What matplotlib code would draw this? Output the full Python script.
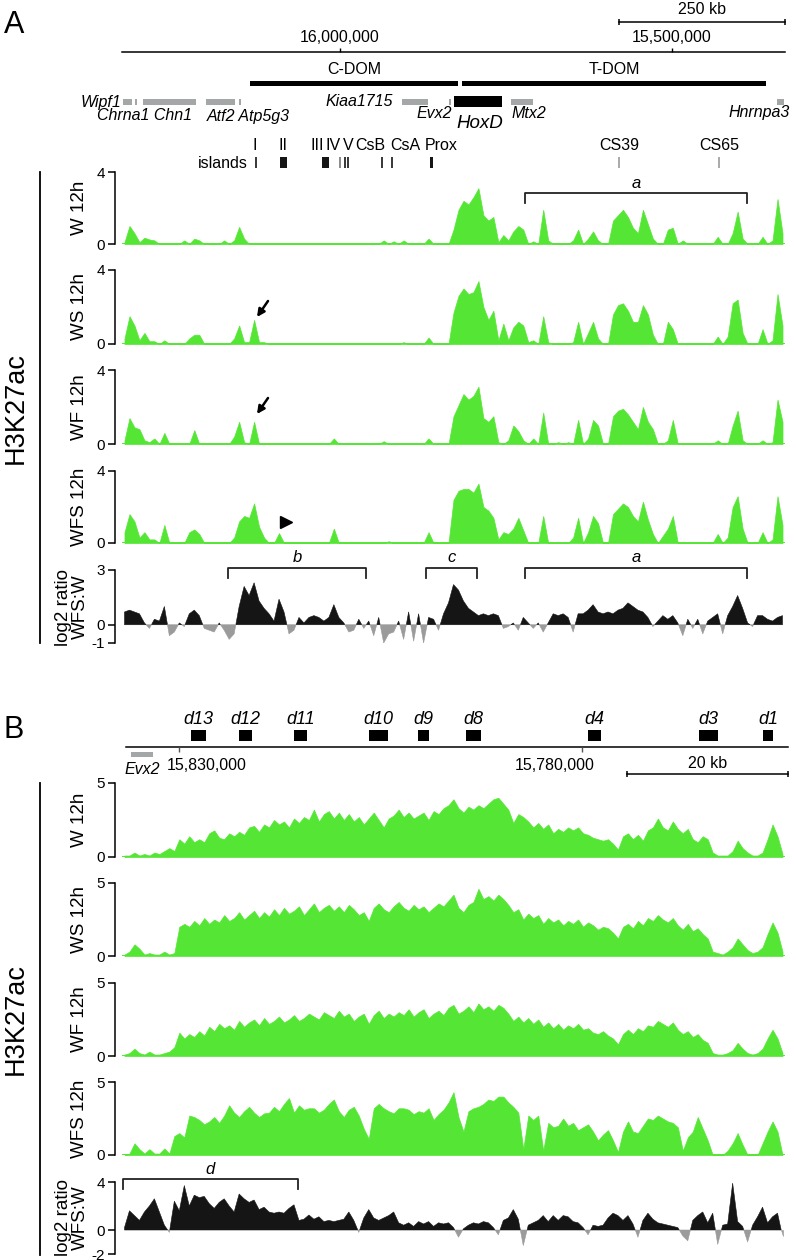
import numpy as np
import matplotlib.pyplot as plt
import matplotlib.transforms as mtransforms
from matplotlib.patches import Rectangle
from matplotlib.lines import Line2D

plt.rcParams['font.family'] = ['Liberation Sans', 'DejaVu Sans']

W_PX, H_PX = 796, 1260
GREEN = '#55e635'
DARK = '#151515'
GREY = '#9b9b9b'
GENE_GREY = '#a3a7a8'

# genomic windows in kb (the maps run from high to low coordinate)
A_LEFT, A_RIGHT = 16328.0, 15329.0
B_LEFT, B_RIGHT = 15837.07, 15754.81
B_AXIS = (15836.6, 15754.4)

A_TICKS = [16000.0, 15500.0]
A_TICK_LABELS = ['16,000,000', '15,500,000']
B_TICKS = [15830.0, 15780.0]
B_TICK_LABELS = ['15,830,000', '15,780,000']
SCALE_A_KB = 250
SCALE_B_KB = 20

TRACK_NAMES = ['W 12h', 'WS 12h', 'WF 12h', 'WFS 12h']

# panel A annotation (kb)
DOMAINS = [('C-DOM', 16135.1, 15821.7), ('T-DOM', 15815.7, 15357.7)]
GENES_A = [(16326.5, 16312.9), (16308.4, 16305.4), (16296.4, 16216.5),
           (16201.4, 16157.7), (16151.7, 16148.7), (15906.1, 15866.9),
           (15834.6, 15833.0), (15741.9, 15708.7), (15341.1, 15330.6)]
HOXD = (15827.8, 15755.5)
ISLANDS = [(16126.1, 16126.1, DARK), (16089.9, 16079.4, DARK), (16026.7, 16016.1, DARK),
           (15999.5, 15999.5, '#777777'), (15992.0, 15990.2, DARK), (15987.8, 15986.0, DARK),
           (15936.3, 15936.3, DARK), (15921.2, 15921.2, DARK), (15863.9, 15859.4, DARK),
           (15579.2, 15579.2, GREY), (15428.5, 15428.5, GREY)]
BRACKETS_W = [('a', 15720.8, 15386.3)]
BRACKETS_RATIO_A = [('b', 16168.3, 15960.4), ('c', 15870.0, 15793.1), ('a', 15720.8, 15386.3)]

# panel B annotation (kb)
HOXD_GENES = [('d13', 15828.51, 15826.65), ('d12', 15822.55, 15820.94), ('d11', 15815.73, 15814.12),
              ('d10', 15806.43, 15804.07), ('d9', 15800.35, 15798.98), ('d8', 15794.39, 15792.53),
              ('d4', 15779.26, 15777.64), ('d3', 15765.48, 15763.13), ('d1', 15757.54, 15756.31)]
EVX2_B = (15835.95, 15833.22)
BRACKETS_RATIO_B = [('d', 15836.95, 15815.23)]

# H3K27ac signal, panel A (133 bins across the window)
a_w = [0.1, 1.0, 0.6, 0.1, 0.35, 0.25, 0.2, 0, 0, 0,
       0, 0, 0.2, 0, 0.3, 0.2, 0, 0, 0, 0,
       0.2, 0, 0.2, 0.95, 0.3, 0, 0, 0, 0, 0,
       0, 0, 0, 0, 0, 0, 0, 0, 0, 0,
       0, 0, 0, 0, 0, 0, 0, 0, 0, 0,
       0, 0, 0.2, 0, 0.15, 0, 0.2, 0, 0, 0,
       0, 0.3, 0, 0, 0, 0, 0.8, 1.9, 2.4, 2.2,
       2.6, 3.1, 1.6, 1.3, 1.5, 0.1, 0.5, 0.2, 0.7, 1.0,
       0.8, 0, 0.15, 0, 1.9, 0.2, 0, 0, 0, 0,
       0.2, 0.8, 0, 0.3, 0.7, 0.2, 0, 0, 1.3, 1.6,
       1.9, 1.5, 0.9, 0.6, 1.9, 1.1, 0.3, 0, 0, 0.8,
       0.9, 0, 0.2, 0, 0, 0, 0, 0, 0, 0.4,
       0, 0, 0.6, 1.8, 0.3, 0, 0, 0, 0.4, 0,
       0.2, 2.5, 0.6]
a_ws = [0.3, 1.5, 1.0, 0.2, 0.6, 0.15, 0.15, 0, 0.2, 0,
        0, 0, 0, 0.3, 0.5, 0.5, 0, 0, 0, 0,
        0, 0, 0.3, 1.0, 0.1, 0.1, 1.3, 0.1, 0.1, 0,
        0, 0, 0, 0, 0, 0, 0, 0, 0, 0,
        0, 0, 0, 0, 0, 0, 0, 0, 0, 0,
        0, 0, 0, 0, 0, 0, 0.1, 0, 0, 0,
        0, 0.35, 0, 0, 0, 0, 1.7, 2.6, 3.0, 2.7,
        2.8, 3.4, 2.0, 1.3, 1.8, 0.2, 1.1, 0.2, 0.9, 1.2,
        1.0, 0.1, 0.2, 0, 1.5, 0.1, 0, 0, 0, 0,
        0.1, 1.2, 0, 0.6, 1.2, 0.3, 0, 0, 1.6, 2.1,
        2.2, 1.8, 1.2, 1.2, 2.1, 1.6, 0.5, 0, 0, 1.2,
        0.8, 0, 0, 0, 0, 0, 0, 0, 0, 0.4,
        0, 0.4, 2.2, 2.4, 0.6, 0, 0, 0, 0.8, 0,
        0.2, 2.7, 1.0]
a_wf = [0.2, 1.4, 0.9, 0.8, 0.2, 0.1, 0.3, 0, 0.6, 0,
        0, 0, 0, 0, 0.75, 0, 0, 0, 0, 0,
        0, 0, 0.4, 1.2, 0.1, 0, 1.2, 0, 0, 0,
        0, 0, 0, 0, 0, 0, 0, 0, 0, 0,
        0, 0, 0.3, 0, 0, 0, 0, 0, 0, 0,
        0, 0, 0.15, 0, 0, 0, 0, 0, 0, 0,
        0, 0.3, 0, 0, 0, 0, 1.5, 2.1, 2.7, 2.4,
        2.6, 3.1, 1.4, 1.2, 1.5, 0.1, 0, 0.2, 1.0, 0.7,
        0.2, 0, 0.3, 0, 1.7, 0, 0, 0.1, 0, 0.1,
        0, 1.3, 0, 0.3, 1.3, 1.0, 0, 0, 1.5, 1.8,
        1.9, 1.6, 1.2, 0.8, 2.0, 1.2, 0.8, 0, 0, 0.2,
        1.3, 0, 0, 0, 0, 0, 0, 0, 0, 0.2,
        0, 0, 1.0, 1.8, 0.2, 0, 0, 0, 0.2, 0,
        0.1, 2.4, 1.2]
a_wfs = [0.6, 1.6, 1.2, 0.3, 0.6, 0.2, 0.2, 0, 1.0, 0,
         0, 0, 0, 0.6, 0.75, 0.5, 0, 0, 0, 0,
         0, 0, 0.3, 1.2, 1.5, 1.4, 2.2, 0.9, 0.3, 0,
         0, 0.55, 0, 0, 0, 0, 0, 0, 0, 0,
         0, 0, 0.8, 0, 0, 0, 0, 0, 0, 0,
         0, 0, 0, 0.1, 0, 0, 0, 0, 0, 0,
         0, 0.6, 0, 0, 0, 0, 2.4, 2.9, 3.0, 3.0,
         2.8, 3.3, 2.0, 1.8, 1.4, 0.2, 0.6, 0.5, 0.8, 1.4,
         0.7, 0, 0, 0, 1.5, 0, 0, 0, 0, 0,
         0.3, 1.4, 0, 0.6, 1.5, 1.1, 0, 0, 1.6, 1.9,
         2.2, 2.0, 1.5, 1.2, 2.3, 1.3, 0.5, 0, 0.4, 0.8,
         1.5, 0, 0, 0, 0, 0, 0, 0, 0, 0.5,
         0, 0.3, 2.0, 2.6, 0.8, 0, 0, 0, 0.6, 0,
         0.2, 2.6, 1.0]
a_ratio = [0.7, 0.8, 0.7, 0.6, 0.1, -0.2, 0.3, 0.2, 1.0, -0.6,
           -0.4, 0.1, -0.1, 0.6, 0.8, 0.5, -0.2, -0.3, -0.4, 0.1,
           -0.3, -0.8, -0.5, 1.0, 2.1, 1.6, 2.3, 1.3, 0.9, 0.6,
           0.2, 1.4, 0.7, -0.5, -0.3, 0.4, 0.1, 0.4, 0.5, 0.4,
           0.2, 0.4, 1.1, 0.4, 0.1, -0.4, -0.3, 0.3, -0.2, 0.2,
           -0.6, 0.4, -1.0, -0.5, -0.4, 0.2, -0.8, 0.7, -0.9, 0.6,
           -1.0, 0.4, 0.3, -0.3, 0.6, 1.2, 2.2, 1.9, 1.3, 0.9,
           0.7, 0.5, 0.6, 0.5, 0.6, 0.5, -0.2, -0.1, 0.1, -0.3,
           0.4, 0.1, -0.2, 0.1, -0.4, 0.1, 0.6, 0.5, 0.6, 0.4,
           -0.4, 0.6, 0.6, 0.8, 1.1, 0.7, 0.6, 0.7, 0.6, 0.8,
           0.9, 1.2, 1.0, 0.8, 0.7, 0.4, -0.1, 0.2, 0.5, 0.3,
           0.5, 0.1, -0.6, 0.3, -0.2, 0.3, -0.5, 0.2, 0.4, 0.6,
           -0.5, 0.5, 1.0, 1.6, 0.9, 0.1, -0.1, 0.5, 0.5, 0.3,
           0.2, 0.4, 0.5]

# H3K27ac signal, panel B
b_w = [0.1, 0.1, 0.3, 0.1, 0.2, 0.1, 0.3, 0.2, 0.4, 0.6,
       0.4, 1.2, 0.9, 1.4, 1.0, 1.2, 1.0, 1.6, 1.8, 1.3,
       1.2, 1.6, 1.4, 1.7, 1.5, 2.0, 2.1, 1.7, 2.2, 2.0,
       2.5, 2.2, 2.4, 2.0, 2.6, 2.3, 2.7, 2.5, 3.2, 2.4,
       2.9, 3.1, 2.6, 3.0, 2.5, 2.9, 2.4, 2.7, 2.2, 2.6,
       3.0, 2.5, 2.0, 2.6, 2.8, 3.2, 2.7, 3.0, 2.6, 2.8,
       3.0, 2.5, 3.1, 2.9, 3.3, 3.5, 3.9, 3.3, 3.0, 3.4,
       3.2, 3.5, 3.3, 3.6, 3.9, 4.0, 3.6, 3.2, 2.3, 2.9,
       2.7, 2.4, 2.0, 2.3, 1.9, 2.2, 1.6, 1.9, 1.7, 2.0,
       1.8, 2.0, 1.6, 1.5, 1.3, 1.2, 1.1, 1.2, 0.9, 0.5,
       1.4, 1.6, 1.2, 1.5, 1.1, 1.8, 2.0, 2.6, 2.0, 1.8,
       2.4, 1.9, 1.6, 1.9, 1.2, 1.0, 1.4, 1.2, 0.3, 0.1,
       0.1, 0.1, 0.4, 1.1, 0.6, 0.3, 0.1, 0.1, 0.3, 1.2,
       2.2, 1.4, 0.2]
b_ws = [0.1, 0.3, 0.8, 0.5, 0.1, 0.2, 0.1, 0.1, 0.3, 0.1,
        0.2, 2.0, 2.2, 2.0, 2.4, 2.1, 2.6, 2.2, 2.5, 2.3,
        2.8, 2.4, 2.6, 3.0, 2.5, 2.8, 3.1, 2.6, 3.0, 2.7,
        3.2, 2.8, 3.3, 2.9, 3.1, 3.4, 2.8, 3.2, 3.6, 3.0,
        3.3, 3.5, 3.1, 3.4, 3.0, 3.5, 3.2, 2.8, 3.0, 2.4,
        3.3, 3.6, 3.2, 3.0, 3.4, 3.7, 3.3, 3.1, 3.5, 3.2,
        3.4, 3.0, 3.3, 3.6, 3.4, 3.8, 4.2, 3.3, 3.0, 3.5,
        3.7, 4.6, 3.9, 4.1, 3.8, 4.2, 3.9, 3.5, 3.0, 3.2,
        2.5, 2.9, 2.6, 2.8, 2.2, 2.6, 2.3, 2.5, 2.1, 2.4,
        2.2, 2.5, 2.0, 2.3, 2.1, 1.8, 2.0, 1.9, 1.6, 1.2,
        2.0, 2.2, 1.9, 2.4, 2.1, 2.6, 2.4, 2.8, 2.5, 2.3,
        2.6, 2.1, 1.8, 2.2, 1.7, 1.9, 1.5, 1.2, 0.3, 0.2,
        0.1, 0.3, 0.6, 1.2, 0.8, 0.4, 0.2, 0.3, 0.6, 1.5,
        2.3, 1.6, 0.3]
b_wf = [0.1, 0.2, 0.5, 0.2, 0.1, 0.3, 0.1, 0.1, 0.2, 0.3,
        0.6, 1.6, 1.2, 1.5, 1.3, 1.7, 1.4, 2.0, 1.7, 2.2,
        1.9, 2.1, 1.8, 2.4, 2.0, 2.3, 2.5, 2.1, 2.6, 2.2,
        2.4, 2.7, 2.3, 2.5, 2.8, 2.4, 2.6, 2.9, 2.7, 2.5,
        3.0, 2.8, 2.6, 3.1, 2.7, 2.9, 2.4, 2.7, 2.9, 2.2,
        2.8, 3.1, 2.6, 2.9, 2.7, 3.0, 2.8, 3.2, 2.7, 3.0,
        3.2, 2.6, 2.9, 3.1, 2.8, 3.3, 3.5, 2.9, 3.1, 3.4,
        3.0, 3.6, 3.2, 3.4, 3.1, 3.5, 3.3, 2.9, 2.4, 2.7,
        2.3, 2.6, 2.2, 2.5, 2.0, 2.3, 1.9, 2.2, 1.8, 2.1,
        1.9, 2.2, 1.8, 1.9, 1.6, 1.5, 1.7, 1.4, 1.2, 0.8,
        1.5, 1.8, 1.5, 1.9, 1.7, 2.1, 2.0, 2.4, 2.2, 2.0,
        2.3, 1.8, 1.5, 1.7, 1.3, 1.5, 1.1, 0.9, 0.2, 0.1,
        0.1, 0.2, 0.4, 0.9, 0.5, 0.2, 0.1, 0.2, 0.5, 1.2,
        1.8, 1.2, 0.2]
b_wfs = [0.0, 0.1, 0.8, 0.4, 0.1, 0.4, 0.1, 0.1, 0.45, 0.1,
         1.3, 1.5, 1.2, 2.7, 2.6, 2.4, 2.1, 2.3, 2.6, 2.2,
         2.7, 3.4, 2.9, 2.6, 3.0, 3.3, 2.9, 2.6, 2.85, 2.9,
         3.3, 3.0, 3.5, 3.9, 2.9, 3.4, 3.1, 3.2, 3.2, 2.9,
         3.1, 3.5, 3.8, 3.0, 2.6, 3.1, 3.3, 2.7, 1.8, 1.1,
         3.2, 3.5, 3.2, 3.0, 2.85, 3.2, 3.2, 3.1, 2.8, 3.0,
         2.9, 3.2, 2.4, 2.8, 3.1, 3.6, 4.3, 2.6, 1.6, 3.0,
         3.2, 3.3, 3.5, 3.8, 3.7, 4.0, 4.0, 3.6, 3.3, 2.9,
         0.4, 2.7, 2.4, 2.7, 0.3, 2.2, 1.9, 2.0, 2.5, 2.0,
         2.2, 1.7, 1.9, 2.1, 1.6, 1.0, 1.4, 1.7, 1.0, 0.2,
         1.6, 2.3, 1.6, 1.5, 2.0, 2.5, 2.4, 2.7, 2.5, 2.3,
         2.2, 1.9, 0.3, 1.2, 1.6, 2.6, 1.8, 1.0, 0.0, 0.0,
         0.0, 0.3, 0.8, 1.5, 0.7, 0.0, 0.0, 0.0, 0.8, 1.6,
         2.3, 1.6, 0.0]
b_ratio = [0.2, 1.6, 1.2, 0.8, 1.5, 2.0, 2.6, 1.5, 0.4, -0.2,
           2.4, 1.6, 3.7, 2.0, 2.9, 2.7, 2.8, 2.2, 1.8, 2.3,
           2.6, 2.0, 1.5, 3.0, 2.6, 2.3, 2.5, 1.7, 1.9, 1.5,
           1.4, 1.5, 1.4, 1.8, 2.1, 0.8, 0.9, 1.25, 0.9, 1.1,
           0.7, 0.8, 0.7, 0.8, 0.9, 1.5, 0.8, -0.2, 1.0, 1.7,
           1.0, 0.8, 1.0, 1.2, 1.5, 0.6, 0.4, 0.6, 0.3, 0.7,
           0.5, 0.7, 0.3, 0.6, 0.5, 0.6, 0.2, -0.6, 0.1, 0.4,
           0.6, 0.5, 0.7, 0.6, 0.2, -0.4, 0.8, 1.0, 1.7, 0.9,
           -1.3, 0.4, 0.6, 0.8, 1.2, 0.7, 1.2, 0.8, 1.2, 1.1,
           0.7, 0.6, 0.2, -0.4, 0.4, 0.3, 0.4, 1.0, 1.4, 1.2,
           0.8, 1.2, 0.5, -0.6, 0.8, 1.4, 0.9, 0.6, 0.5, 0.4,
           0.3, 0.2, -0.5, -0.9, 0.8, 1.2, 1.5, 0.6, 1.4, -1.2,
           0.4, 0.5, 3.9, 0.7, 0.3, -1.0, 0.4, 1.1, 1.9, 0.6,
           1.1, 1.4, -0.5]

fig = plt.figure(figsize=(W_PX / 100, H_PX / 100), dpi=100)


def px_axes(x0, y0, x1, y1):
    """ axes placed by pixel box (y measured from the top) """
    return fig.add_axes([x0 / W_PX, 1 - y1 / H_PX, (x1 - x0) / W_PX, (y1 - y0) / H_PX])


def ftext(x, y, s, **kw):
    kw.setdefault('ha', 'center')
    kw.setdefault('va', 'center')
    fig.text(x / W_PX, 1 - y / H_PX, s, **kw)


def fline(xs, ys, **kw):
    fig.add_artist(Line2D([x / W_PX for x in xs], [1 - y / H_PX for y in ys],
                          transform=fig.transFigure, **kw))


def span_box(ax, start, end, ytop, h, color):
    ax.add_patch(Rectangle((min(start, end), ytop), abs(end - start), h,
                           facecolor=color, edgecolor='none', clip_on=False))


def bin_centres(left, right, n):
    edges = np.linspace(left, right, n + 1)
    return (edges[:-1] + edges[1:]) / 2


def track_axes(y0, y1, left, right, lo, hi, ticks):
    ax = px_axes(122, y0, 785, y1)
    ax.set_xlim(left, right)
    ax.set_ylim(lo, hi)
    for s in ['top', 'right', 'bottom']:
        ax.spines[s].set_visible(False)
    ax.spines['left'].set_position(('outward', 5))
    ax.spines['left'].set_bounds(lo, hi)
    ax.spines['left'].set_linewidth(1.1)
    ax.set_yticks(ticks)
    ax.set_yticklabels([str(t) for t in ticks])
    ax.tick_params(axis='y', length=5, width=1.1, labelsize=11, pad=2)
    ax.set_xticks([])
    ax.patch.set_visible(False)
    return ax


def draw_signal(ax, vals, left, right):
    pos = bin_centres(left, right, len(vals))
    ax.fill_between(pos, 0, vals, facecolor=GREEN, edgecolor=GREEN, linewidth=0.5)
    ax.axhline(0, color=GREEN, lw=1.4)


def draw_ratio(ax, vals, left, right):
    pos = bin_centres(left, right, len(vals))
    v = np.asarray(vals)
    ax.fill_between(pos, 0, v, where=v >= 0, interpolate=True,
                    facecolor=DARK, edgecolor=DARK, linewidth=0.4)
    ax.fill_between(pos, 0, v, where=v <= 0, interpolate=True,
                    facecolor=GREY, edgecolor=GREY, linewidth=0.4)


def bracket(ax, start, end, ytop, ybot, ylab, label):
    tr = mtransforms.blended_transform_factory(ax.transData, ax.transAxes)
    ax.plot([start, start, end, end], [ybot, ytop, ytop, ybot], color='#222222',
            lw=1.3, transform=tr, clip_on=False)
    ax.text((start + end) / 2, ylab, label, transform=tr, ha='center', va='center',
            fontsize=12, style='italic')


# ---------------- panel A header ----------------
ftext(14, 25, 'A', fontsize=22)
ann = px_axes(122, 0, 785, 170)
ann.set_xlim(A_LEFT, A_RIGHT)
ann.set_ylim(170, 0)
ann.axis('off')

ann.plot([A_RIGHT + SCALE_A_KB, A_RIGHT], [22, 22], color='k', lw=1.1, clip_on=False)
ann.vlines([A_RIGHT + SCALE_A_KB, A_RIGHT], 19, 25, color='k', lw=1.1, clip_on=False)
ann.text(A_RIGHT + SCALE_A_KB / 2, 10, '%d kb' % SCALE_A_KB, ha='center', va='center', fontsize=11.5)

ann.plot([A_LEFT, A_RIGHT], [52, 52], color='k', lw=1.1, clip_on=False)
ann.vlines(A_TICKS, 48, 52, color='k', lw=1.0)
for t, lab in zip(A_TICKS, A_TICK_LABELS):
    ann.text(t, 38, lab, ha='center', va='center', fontsize=11.5)

for name, s, e in DOMAINS:
    span_box(ann, s, e, 80.5, 5.5, 'k')
    ann.text((s + e) / 2, 69, name, ha='center', va='center', fontsize=11.5)

for s, e in GENES_A:
    span_box(ann, s, e, 99, 5.5, GENE_GREY)
span_box(ann, HOXD[0], HOXD[1], 96, 11, 'k')

gene_font = dict(fontsize=11.5, style='italic')
ftext(121, 102, 'Wipf1', ha='right', **gene_font)
ftext(97, 116, 'Chrna1 Chn1', ha='left', **gene_font)
ftext(207, 116, 'Atf2 Atp5g3', ha='left', **gene_font)
ftext(393, 102, 'Kiaa1715', ha='right', **gene_font)
ftext(452, 113, 'Evx2', ha='right', **gene_font)
ftext(456, 123, 'HoxD', ha='left', fontsize=13.5, style='italic')
ftext(512, 113, 'Mtx2', ha='left', **gene_font)
ftext(790, 113, 'Hnrnpa3', ha='right', **gene_font)

for lab, x in [('I', 255), ('II', 283), ('III', 317), ('IV', 333), ('V', 348),
               ('CsB', 370), ('CsA', 405), ('Prox', 441), ('CS39', 619), ('CS65', 719)]:
    ftext(x, 145, lab, fontsize=11.5)
ftext(248, 163, 'islands', ha='right', fontsize=11.5)
for s, e, c in ISLANDS:
    if abs(s - e) < 2:
        ann.vlines(s, 157, 168, color=c, lw=1.2)
    else:
        span_box(ann, s, e, 157, 11, c)

# ---------------- panel A tracks ----------------
rows_a = [(172, 244), (270, 344), (370, 444), (471, 543)]
axes_a = []
for (y0, y1), name, vals in zip(rows_a, TRACK_NAMES, [a_w, a_ws, a_wf, a_wfs]):
    ax = track_axes(y0, y1, A_LEFT, A_RIGHT, 0, 4, [0, 4])
    draw_signal(ax, vals, A_LEFT, A_RIGHT)
    ftext(80, (y0 + y1) / 2, name, rotation=90, fontsize=13.5)
    axes_a.append(ax)

for lab, s, e in BRACKETS_W:
    bracket(axes_a[0], s, e, 0.708, 0.569, 0.847, lab)

axr = track_axes(570, 643, A_LEFT, A_RIGHT, -1, 3, [-1, 0, 3])
draw_ratio(axr, a_ratio, A_LEFT, A_RIGHT)
for lab, s, e in BRACKETS_RATIO_A:
    bracket(axr, s, e, 1.027, 0.89, 1.178, lab)
ftext(72, 607, 'log2 ratio\nWFS:W', rotation=90, fontsize=13.5, linespacing=1.05)

fline([40, 40], [172, 643], color='k', lw=1.3)
ftext(16, 408, 'H3K27ac', rotation=90, fontsize=19.5)

# arrows marking the Atp5g3 peak
for (x0, y0, x1, y1) in [(268, 301, 257, 317), (268, 398, 257, 414)]:
    axes_a[0].annotate('', xy=(x1 / W_PX, 1 - y1 / H_PX), xytext=(x0 / W_PX, 1 - y0 / H_PX),
                       xycoords='figure fraction', textcoords='figure fraction',
                       arrowprops=dict(arrowstyle='-|>', color='k', lw=1.8,
                                       mutation_scale=11, shrinkA=0, shrinkB=0),
                       annotation_clip=False)
fig.add_artist(Line2D([286 / W_PX], [1 - 522 / H_PX], marker='>', markersize=8,
                      color='k', transform=fig.transFigure))

# ---------------- panel B header ----------------
ftext(14, 730, 'B', fontsize=22)
annb = px_axes(122, 700, 785, 790)
annb.set_xlim(B_LEFT, B_RIGHT)
annb.set_ylim(790, 700)
annb.axis('off')

annb.plot(list(B_AXIS), [747, 747], color='k', lw=1.1, clip_on=False)
annb.vlines(B_TICKS, 747, 752, color='#555555', lw=1.0)
ftext(207, 766, B_TICK_LABELS[0], fontsize=11.5)
ftext(555, 766, B_TICK_LABELS[1], fontsize=11.5)

for name, s, e in HOXD_GENES:
    span_box(annb, s, e, 730, 11, 'k')
    annb.text((s + e) / 2, 720, name, ha='center', va='center', fontsize=13, style='italic')
span_box(annb, EVX2_B[0], EVX2_B[1], 752, 5, GENE_GREY)
ftext(142, 769, 'Evx2', **gene_font)

annb.plot([B_AXIS[1] + SCALE_B_KB, B_AXIS[1]], [774, 774], color='k', lw=1.1, clip_on=False)
annb.vlines([B_AXIS[1] + SCALE_B_KB, B_AXIS[1]], 771, 777, color='k', lw=1.1, clip_on=False)
annb.text(B_AXIS[1] + SCALE_B_KB / 2, 764, '%d kb' % SCALE_B_KB, ha='center', va='center', fontsize=11.5)

# ---------------- panel B tracks ----------------
rows_b = [(783, 857), (883, 956), (983, 1056), (1082, 1155)]
for (y0, y1), name, vals in zip(rows_b, TRACK_NAMES, [b_w, b_ws, b_wf, b_wfs]):
    ax = track_axes(y0, y1, B_LEFT, B_RIGHT, 0, 5, [0, 5])
    draw_signal(ax, vals, B_LEFT, B_RIGHT)
    ftext(80, (y0 + y1) / 2, name, rotation=90, fontsize=13.5)

axrb = track_axes(1182, 1254, B_LEFT, B_RIGHT, -2, 4, [-2, 0, 4])
draw_ratio(axrb, b_ratio, B_LEFT, B_RIGHT)
for lab, s, e in BRACKETS_RATIO_B:
    bracket(axrb, s, e, 1.042, 0.903, 1.18, lab)
ftext(72, 1218, 'log2 ratio\nWFS:W', rotation=90, fontsize=13.5, linespacing=1.05)

fline([40, 40], [783, 1255], color='k', lw=1.3)
ftext(16, 1019, 'H3K27ac', rotation=90, fontsize=19.5)

fig.savefig('out.png', dpi=100)
